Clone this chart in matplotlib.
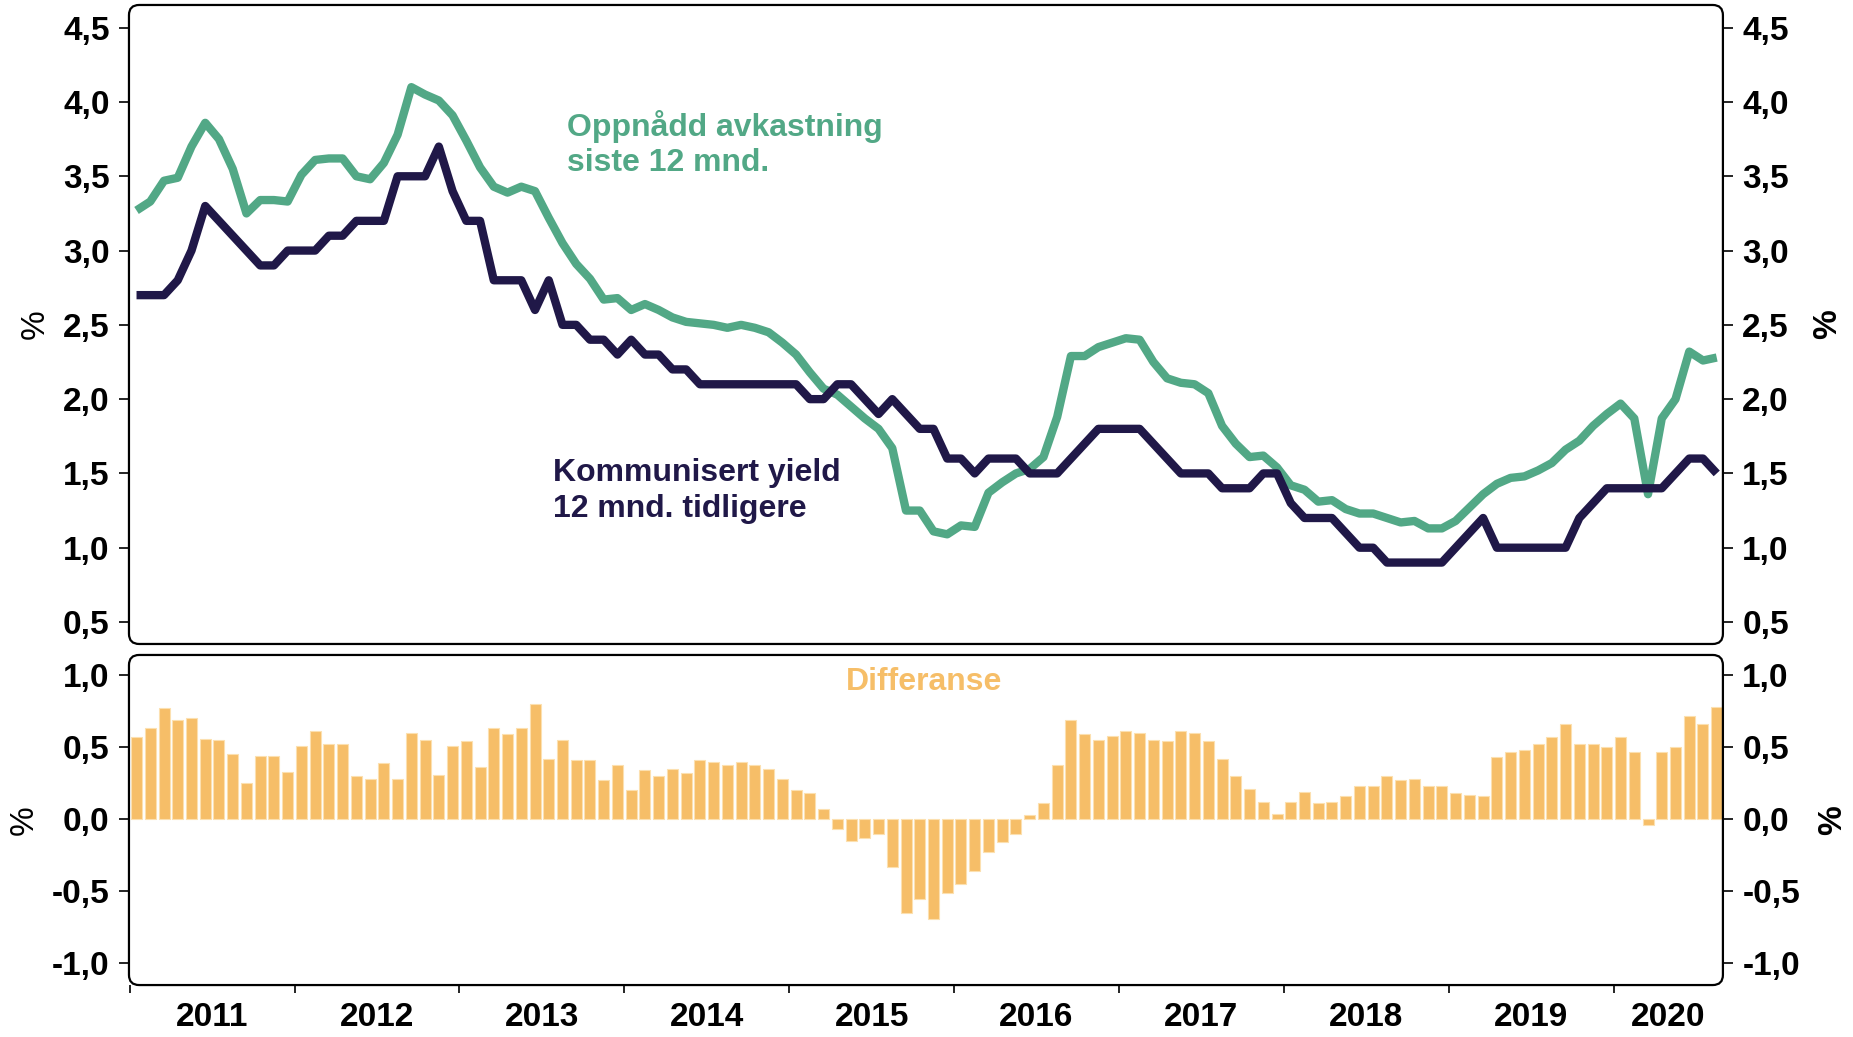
import matplotlib.pyplot as plt
from matplotlib.patches import FancyBboxPatch
from matplotlib.ticker import FuncFormatter

plt.rcParams['font.family'] = ['Liberation Sans', 'DejaVu Sans']
plt.rcParams['font.weight'] = 'bold'

# monthly data, Jan 2011 - Aug 2020
years = ['2011', '2012', '2013', '2014', '2015', '2016', '2017', '2018', '2019', '2020']

kommunisert = [2.7, 2.7, 2.7, 2.8, 3.0, 3.3, 3.2, 3.1, 3.0, 2.9, 2.9, 3.0,
               3.0, 3.0, 3.1, 3.1, 3.2, 3.2, 3.2, 3.5, 3.5, 3.5, 3.7, 3.4,
               3.2, 3.2, 2.8, 2.8, 2.8, 2.6, 2.8, 2.5, 2.5, 2.4, 2.4, 2.3,
               2.4, 2.3, 2.3, 2.2, 2.2, 2.1, 2.1, 2.1, 2.1, 2.1, 2.1, 2.1,
               2.1, 2.0, 2.0, 2.1, 2.1, 2.0, 1.9, 2.0, 1.9, 1.8, 1.8, 1.6,
               1.6, 1.5, 1.6, 1.6, 1.6, 1.5, 1.5, 1.5, 1.6, 1.7, 1.8, 1.8,
               1.8, 1.8, 1.7, 1.6, 1.5, 1.5, 1.5, 1.4, 1.4, 1.4, 1.5, 1.5,
               1.3, 1.2, 1.2, 1.2, 1.1, 1.0, 1.0, 0.9, 0.9, 0.9, 0.9, 0.9,
               1.0, 1.1, 1.2, 1.0, 1.0, 1.0, 1.0, 1.0, 1.0, 1.2, 1.3, 1.4,
               1.4, 1.4, 1.4, 1.4, 1.5, 1.6, 1.6, 1.5]

oppnadd = [3.27, 3.33, 3.47, 3.49, 3.70, 3.86, 3.75, 3.55, 3.25, 3.34, 3.34, 3.33,
           3.51, 3.61, 3.62, 3.62, 3.50, 3.48, 3.59, 3.78, 4.10, 4.05, 4.01, 3.91,
           3.74, 3.56, 3.43, 3.39, 3.43, 3.40, 3.22, 3.05, 2.91, 2.81, 2.67, 2.68,
           2.60, 2.64, 2.60, 2.55, 2.52, 2.51, 2.50, 2.48, 2.50, 2.48, 2.45, 2.38,
           2.30, 2.18, 2.07, 2.03, 1.95, 1.87, 1.80, 1.67, 1.25, 1.25, 1.11, 1.09,
           1.15, 1.14, 1.37, 1.44, 1.50, 1.53, 1.61, 1.88, 2.29, 2.29, 2.35, 2.38,
           2.41, 2.40, 2.25, 2.14, 2.11, 2.10, 2.04, 1.82, 1.70, 1.61, 1.62, 1.54,
           1.42, 1.39, 1.31, 1.32, 1.26, 1.23, 1.23, 1.20, 1.17, 1.18, 1.13, 1.13,
           1.18, 1.27, 1.36, 1.43, 1.47, 1.48, 1.52, 1.57, 1.66, 1.72, 1.82, 1.90,
           1.97, 1.87, 1.36, 1.87, 2.00, 2.32, 2.26, 2.28]

differanse = [0.57, 0.63, 0.77, 0.69, 0.70, 0.56, 0.55, 0.45, 0.25, 0.44, 0.44, 0.33,
              0.51, 0.61, 0.52, 0.52, 0.30, 0.28, 0.39, 0.28, 0.60, 0.55, 0.31, 0.51,
              0.54, 0.36, 0.63, 0.59, 0.63, 0.80, 0.42, 0.55, 0.41, 0.41, 0.27, 0.38,
              0.20, 0.34, 0.30, 0.35, 0.32, 0.41, 0.40, 0.38, 0.40, 0.38, 0.35, 0.28,
              0.20, 0.18, 0.07, -0.07, -0.15, -0.13, -0.10, -0.33, -0.65, -0.55, -0.69, -0.51,
              -0.45, -0.36, -0.23, -0.16, -0.10, 0.03, 0.11, 0.38, 0.69, 0.59, 0.55, 0.58,
              0.61, 0.60, 0.55, 0.54, 0.61, 0.60, 0.54, 0.42, 0.30, 0.21, 0.12, 0.04,
              0.12, 0.19, 0.11, 0.12, 0.16, 0.23, 0.23, 0.30, 0.27, 0.28, 0.23, 0.23,
              0.18, 0.17, 0.16, 0.43, 0.47, 0.48, 0.52, 0.57, 0.66, 0.52, 0.52, 0.50,
              0.57, 0.47, -0.04, 0.47, 0.50, 0.72, 0.66, 0.78]

green = '#52A886'
navy = '#201848'
orange = '#F6BE68'

x = list(range(len(kommunisert)))
comma = FuncFormatter(lambda v, p: ('%.1f' % v).replace('.', ','))

W, H = 18.53, 10.37
fig = plt.figure(figsize=(W, H), dpi=100)
ax1 = fig.add_axes([0.0696, 0.379, 0.8602, 0.6162])
ax2 = fig.add_axes([0.0696, 0.0501, 0.8602, 0.3183])

# top panel: the two lines
ax1.plot(x, oppnadd, color=green, lw=6, solid_capstyle='butt')
ax1.plot(x, kommunisert, color=navy, lw=6, solid_capstyle='butt')
ax1.set_ylim(0.352, 4.653)
ax1.set_yticks([0.5, 1.0, 1.5, 2.0, 2.5, 3.0, 3.5, 4.0, 4.5])
ax1.set_xticks([])
ax1.text(31.3, 3.72, 'Oppnådd avkastning\nsiste 12 mnd.', color=green,
         fontsize=23, va='center', ha='left', linespacing=1.22)
ax1.text(30.3, 1.38, 'Kommunisert yield\n12 mnd. tidligere', color=navy,
         fontsize=23, va='center', ha='left', linespacing=1.25)

# bottom panel: difference bars
ax2.bar(x, differanse, width=0.8, color=orange, edgecolor='#FCE0B0', linewidth=0.8)
ax2.set_ylim(-1.15, 1.14)
ax2.set_yticks([-1.0, -0.5, 0.0, 0.5, 1.0])
ax2.text(57.3, 0.95, 'Differanse', color=orange, fontsize=23, ha='center', va='center')

# year ticks at year boundaries, labels centred in each year
bounds = [-0.5 + 12 * k for k in range(len(years))]
xmax = len(x) - 0.55
centers = [b + 6 for b in bounds[:-1]] + [(bounds[-1] + xmax) / 2]
ax2.set_xticks(bounds)
ax2.set_xticklabels([])
ax2.set_xticks(centers, minor=True)
ax2.set_xticklabels(years, minor=True, family=['Liberation Sans Narrow', 'Liberation Sans'])
ax2.tick_params(axis='x', which='major', direction='out', length=6, width=1.2)
ax2.tick_params(axis='x', which='minor', length=0, pad=12, labelsize=24)

pct_left = {ax1: -0.049, ax2: -0.056}
pct_right = {ax1: 1.066, ax2: 1.069}
for ax in (ax1, ax2):
    ax.set_xlim(-0.55, xmax)
    for s in ax.spines.values():
        s.set_visible(False)
    ax.yaxis.set_major_formatter(comma)
    ax.tick_params(axis='y', left=True, right=True, labelleft=True, labelright=True,
                   direction='out', length=7, width=1.2, labelsize=24, pad=7)
    ax.set_ylabel('%', fontsize=24)
    ax.yaxis.set_label_coords(pct_left[ax], 0.5)
    ax.text(pct_right[ax], 0.5, '%', fontsize=24, rotation=90, ha='center', va='center',
            transform=ax.transAxes)
    bb = ax.get_position()
    frame = FancyBboxPatch((bb.x0, bb.y0), bb.width, bb.height,
                           boxstyle='round,pad=0,rounding_size=0.0055',
                           transform=fig.transFigure, mutation_aspect=W / H,
                           fill=False, lw=1.6, ec='black')
    fig.add_artist(frame)

fig.savefig('out.png', dpi=100)
